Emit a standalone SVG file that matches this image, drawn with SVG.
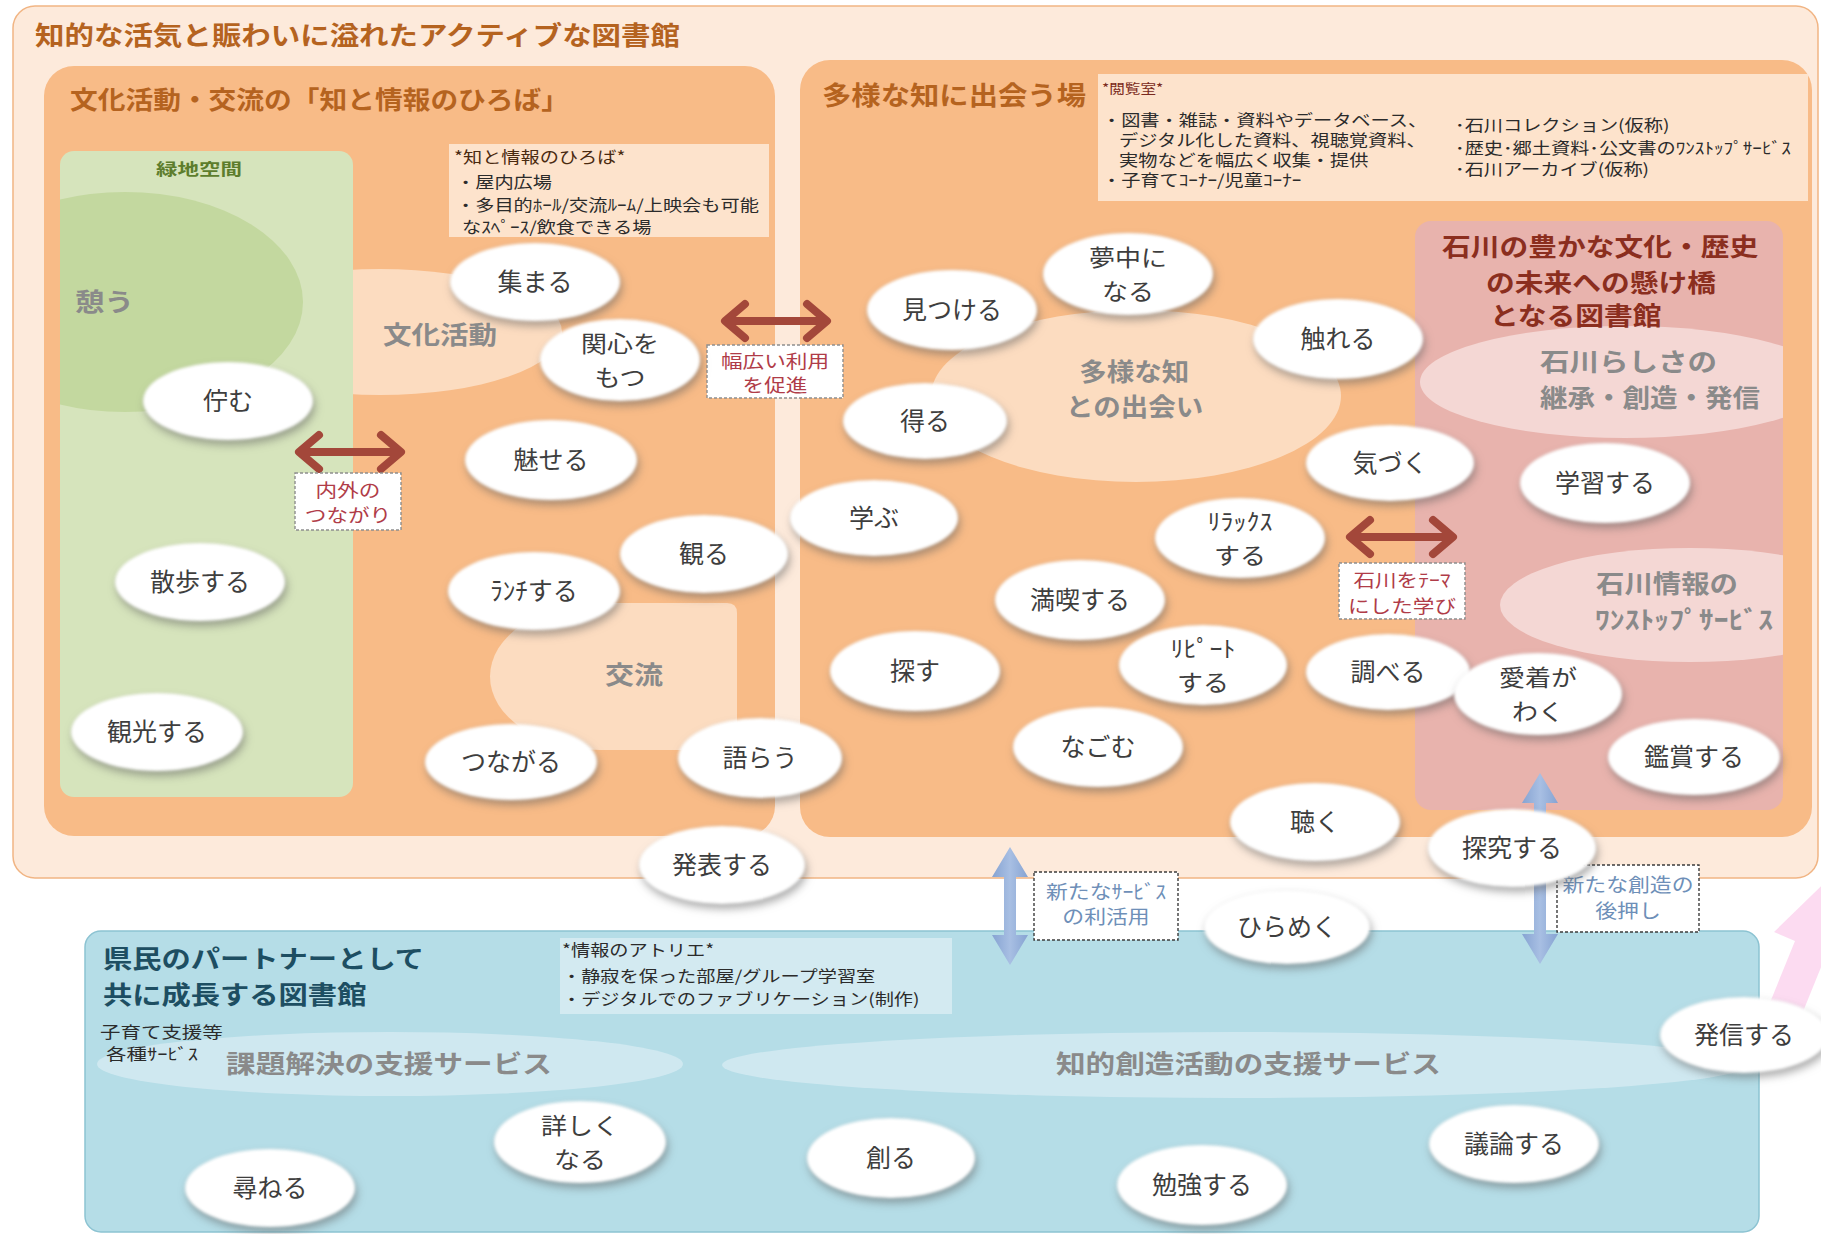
<svg xmlns="http://www.w3.org/2000/svg" width="1821" height="1234" viewBox="0 0 1821 1234">
<defs>
<style>
text{font-family:"Noto Sans CJK JP","Noto Sans",sans-serif;}
.bub{fill:#fff;filter:url(#sh);}
.lb{font-size:25px;fill:#3e3e3e;text-anchor:middle;}
.lb2{font-size:23px;fill:#3e3e3e;text-anchor:middle;}
.big{font-size:25px;font-weight:700;fill:#8a8a8a;}
.head{font-weight:700;fill:#b5631f;}
.info{font-size:16px;fill:#2b2b2b;}
.dbox{fill:#fff;stroke:#8e8e8e;stroke-width:1.4;stroke-dasharray:3 2;}
.dboxb{fill:#fff;stroke:#3c3c3c;stroke-width:1.4;stroke-dasharray:3 2;}
.rtxt{font-size:18px;fill:#b03c48;text-anchor:middle;}
.btxt{font-size:19px;fill:#6e8fb8;text-anchor:middle;}
.rarrow{fill:none;stroke:#a3473a;stroke-width:8;stroke-linecap:round;stroke-linejoin:round;}
.barrow{fill:url(#bgr);}
</style>
<linearGradient id="bgr" x1="0" y1="0" x2="1" y2="0">
<stop offset="0" stop-color="#86a3d2"/><stop offset="0.5" stop-color="#a8bfe3"/><stop offset="1" stop-color="#86a3d2"/>
</linearGradient>
<filter id="sh" x="-25%" y="-30%" width="150%" height="170%" color-interpolation-filters="sRGB">
<feGaussianBlur in="SourceAlpha" stdDeviation="4"/>
<feOffset dx="2" dy="5" result="o"/>
<feFlood flood-color="#5a5a5a" flood-opacity="0.5"/>
<feComposite in2="o" operator="in" result="s"/>
<feGaussianBlur in="SourceGraphic" stdDeviation="1.6" result="g"/>
<feMerge><feMergeNode in="s"/><feMergeNode in="g"/></feMerge>
</filter>
<clipPath id="cpG"><rect x="60" y="151" width="293" height="646" rx="14"/></clipPath>
<clipPath id="cpP"><rect x="1415" y="221" width="368" height="589" rx="16"/></clipPath>
</defs>

<g id="outer">
<rect x="13" y="6" width="1805" height="872" rx="22" fill="#fdeadb" stroke="#f1b584" stroke-width="1.5"/>
<text class="head" x="35" y="45" font-size="26" textLength="645" lengthAdjust="spacingAndGlyphs">知的な活気と賑わいに溢れたアクティブな図書館</text>
</g>

<g id="panel-hiroba">
<rect x="44" y="66" width="731" height="770" rx="30" fill="#f8bb87"/>
<ellipse cx="380" cy="332" rx="182" ry="63" fill="#fcdcc0"/>
<path d="M600 603 H727 Q737 603 737 613 V750 H600 A110 73.5 0 0 1 600 603 Z" fill="#fcdcc0"/>
<rect x="60" y="151" width="293" height="646" rx="14" fill="#d6e4bc"/>
<ellipse cx="125" cy="302" rx="178" ry="110" fill="#c3d89f" clip-path="url(#cpG)"/>
<text class="head" x="70" y="109" font-size="25" textLength="499" lengthAdjust="spacingAndGlyphs">文化活動・交流の「知と情報のひろば」</text>
<text x="156" y="175" font-size="16" font-weight="700" fill="#5d7d2d" textLength="86" lengthAdjust="spacingAndGlyphs">緑地空間</text>
<text class="big" x="75" y="311" textLength="59" lengthAdjust="spacingAndGlyphs">憩う</text>
<text class="big" x="383" y="344" textLength="114" lengthAdjust="spacingAndGlyphs">文化活動</text>
<text class="big" x="605" y="684" textLength="58" lengthAdjust="spacingAndGlyphs">交流</text>
<rect x="449" y="144" width="320" height="93" fill="#fde3cc"/>
<text class="info" transform="matrix(1.2 0 0 1 454 0)" font-size="16"><tspan x="0" y="163" fill="#4a2a10">*知と情報のひろば*</tspan><tspan x="1.7" y="188">・屋内広場</tspan><tspan x="1.7" y="211">・多目的ﾎｰﾙ/交流ﾙｰﾑ/上映会も可能</tspan><tspan x="6.7" y="233">なｽﾍﾟｰｽ/飲食できる場</tspan></text>
</g>

<g id="panel-deai">
<rect x="800" y="60" width="1012" height="777" rx="30" fill="#f8bb87"/>
<rect x="1098" y="74" width="710" height="127" fill="#fde3cc"/>
<text class="head" x="822" y="105" font-size="26" textLength="264" lengthAdjust="spacingAndGlyphs">多様な知に出会う場</text>
<text class="info" transform="matrix(1.2 0 0 1 1102 0)" font-size="15.5"><tspan x="0" y="93" font-size="13" fill="#7a2a20">*閲覧室*</tspan><tspan x="0" y="126">・図書・雑誌・資料やデータベース、</tspan><tspan x="14.2" y="146">デジタル化した資料、視聴覚資料、</tspan><tspan x="14.2" y="166">実物などを幅広く収集・提供</tspan><tspan x="0" y="186">・子育てｺｰﾅｰ/児童ｺｰﾅｰ</tspan><tspan x="294.2" y="131">･石川コレクション(仮称)</tspan><tspan x="294.2" y="154">･歴史･郷土資料･公文書のﾜﾝｽﾄｯﾌﾟｻｰﾋﾞｽ</tspan><tspan x="294.2" y="175">･石川アーカイブ(仮称)</tspan></text>
<ellipse cx="1136" cy="396" rx="205" ry="86" fill="#fcdcc0"/>
<text class="big" transform="matrix(1.1 0 0 1 1066 0)" font-size="26"><tspan x="12" y="381">多様な知</tspan><tspan x="0" y="416">との出会い</tspan></text>
</g>

<g id="panel-ishikawa">
<rect x="1415" y="221" width="368" height="589" rx="16" fill="#e8b3ad"/>
<ellipse cx="1625" cy="382" rx="205" ry="56" fill="#f4d7d4" clip-path="url(#cpP)"/>
<ellipse cx="1690" cy="605" rx="190" ry="57" fill="#f4d7d4" clip-path="url(#cpP)"/>
<text transform="matrix(1.15 0 0 1 1442 0)" font-size="25" font-weight="700" fill="#8b2e1e"><tspan x="0" y="256">石川の豊かな文化・歴史</tspan><tspan x="38.3" y="292">の未来への懸け橋</tspan><tspan x="41.7" y="325">となる図書館</tspan></text>
<text class="big" x="1540" y="371" font-size="24" textLength="177" lengthAdjust="spacingAndGlyphs">石川らしさの</text>
<text class="big" x="1540" y="407" font-size="24" textLength="220" lengthAdjust="spacingAndGlyphs">継承・創造・発信</text>
<text class="big" x="1596" y="593" font-size="24" textLength="142" lengthAdjust="spacingAndGlyphs">石川情報の</text>
<text class="big" x="1595" y="629" font-size="24" textLength="178" lengthAdjust="spacingAndGlyphs">ﾜﾝｽﾄｯﾌﾟｻｰﾋﾞｽ</text>
</g>

<g id="panel-partner">
<rect x="85" y="931" width="1674" height="301" rx="16" fill="#b5dde7" stroke="#8cc3d2" stroke-width="1.5"/>
<ellipse cx="390" cy="1064" rx="293" ry="32" fill="#cfe8f0"/>
<ellipse cx="1235" cy="1065" rx="513" ry="33" fill="#cfe8f0"/>
<rect x="560" y="938" width="392" height="76" fill="#d3eaf1"/>
<text transform="matrix(1.195 0 0 1 103 0)" font-size="24.5" font-weight="700" fill="#1d4e62"><tspan x="0" y="968">県民のパートナーとして</tspan><tspan x="0" y="1004">共に成長する図書館</tspan></text>
<text class="info" transform="matrix(1.28 0 0 1 100 0)" font-size="15" fill="#222"><tspan x="0" y="1038">子育て支援等</tspan><tspan x="4.7" y="1060">各種ｻｰﾋﾞｽ</tspan></text>
<text class="big" x="226" y="1073" textLength="326" lengthAdjust="spacingAndGlyphs">課題解決の支援サービス</text>
<text class="big" x="1056" y="1073" textLength="385" lengthAdjust="spacingAndGlyphs">知的創造活動の支援サービス</text>
<text class="info" transform="matrix(1.2 0 0 1 562 0)" font-size="16" fill="#222"><tspan x="0" y="956">*情報のアトリエ*</tspan><tspan x="0" y="982">・静寂を保った部屋/グループ学習室</tspan><tspan x="0" y="1005">・デジタルでのファブリケーション(制作)</tspan></text>
</g>

<g id="pink-arrow">
<polygon points="1769,1005 1795,941 1774,932 1851,857 1851,960 1826,955 1800,1019" fill="#fbd5ee" opacity="0.85"/>
</g>

<g id="connectors">
<path class="rarrow" d="M300 452 H400 M319 435 L299 452 L319 469 M381 435 L401 452 L381 469"/>
<rect class="dbox" x="295" y="473" width="106" height="57"/>
<text class="rtxt" transform="matrix(1.2 0 0 1 348 0)"><tspan x="0" y="497">内外の</tspan><tspan x="0" y="522">つながり</tspan></text>

<path class="rarrow" d="M726 321 H826 M745 304 L725 321 L745 338 M807 304 L827 321 L807 338"/>
<rect class="dbox" x="707" y="345" width="136" height="53"/>
<text class="rtxt" transform="matrix(1.2 0 0 1 775 0)"><tspan x="0" y="368">幅広い利用</tspan><tspan x="0" y="392">を促進</tspan></text>

<path class="rarrow" d="M1351 537 H1452 M1370 520 L1350 537 L1370 554 M1433 520 L1453 537 L1433 554"/>
<rect class="dbox" x="1339" y="563" width="126" height="56"/>
<text class="rtxt" transform="matrix(1.2 0 0 1 1402 0)"><tspan x="0" y="587">石川をﾃｰﾏ</tspan><tspan x="0" y="613">にした学び</tspan></text>

<polygon class="barrow" points="1010,847 1028,877 1016,877 1016,935 1028,935 1010,965 992,935 1004,935 1004,877 992,877"/>
<rect class="dboxb" x="1034" y="872" width="144" height="68"/>
<text class="btxt" transform="matrix(1.15 0 0 1 1106 0)"><tspan x="0" y="899">新たなｻｰﾋﾞｽ</tspan><tspan x="0" y="924">の利活用</tspan></text>

<polygon class="barrow" points="1540,773 1558,803 1546,803 1546,934 1558,934 1540,964 1522,934 1534,934 1534,803 1522,803"/>
<rect class="dboxb" x="1557" y="865" width="142" height="67"/>
<text class="btxt" transform="matrix(1.15 0 0 1 1628 0)"><tspan x="0" y="892">新たな創造の</tspan><tspan x="0" y="918">後押し</tspan></text>
</g>

<g id="nodes">
<g id="n-atsumaru"><ellipse class="bub" cx="535" cy="282" rx="85" ry="39"/><text class="lb" x="535" y="291">集まる</text></g>
<g id="n-kanshin"><ellipse class="bub" cx="620" cy="360" rx="80" ry="41"/><text class="lb2" transform="matrix(1.13 0 0 1 620 0)"><tspan x="0" y="352">関心を</tspan><tspan x="0" y="386">もつ</tspan></text></g>
<g id="n-tatazumu"><ellipse class="bub" cx="228" cy="401" rx="85" ry="39"/><text class="lb" x="228" y="410">佇む</text></g>
<g id="n-miseru"><ellipse class="bub" cx="551" cy="460" rx="86" ry="40"/><text class="lb" x="551" y="469">魅せる</text></g>
<g id="n-miru"><ellipse class="bub" cx="704" cy="554" rx="84" ry="39"/><text class="lb" x="704" y="563">観る</text></g>
<g id="n-lunch"><ellipse class="bub" cx="534" cy="591" rx="86" ry="39"/><text class="lb" x="534" y="600">ﾗﾝﾁする</text></g>
<g id="n-sanpo"><ellipse class="bub" cx="200" cy="582" rx="85" ry="39"/><text class="lb" x="200" y="591">散歩する</text></g>
<g id="n-kanko"><ellipse class="bub" cx="157" cy="732" rx="86" ry="39"/><text class="lb" x="157" y="741">観光する</text></g>
<g id="n-tsunagaru"><ellipse class="bub" cx="511" cy="762" rx="86" ry="38"/><text class="lb" x="511" y="771">つながる</text></g>
<g id="n-katarau"><ellipse class="bub" cx="760" cy="758" rx="82" ry="40"/><text class="lb" x="760" y="767">語らう</text></g>
<g id="n-happyo"><ellipse class="bub" cx="722" cy="865" rx="83" ry="39"/><text class="lb" x="722" y="874">発表する</text></g>
<g id="n-muchu"><ellipse class="bub" cx="1128" cy="274" rx="85" ry="41"/><text class="lb2" transform="matrix(1.13 0 0 1 1128 0)"><tspan x="0" y="266">夢中に</tspan><tspan x="0" y="300">なる</tspan></text></g>
<g id="n-mitsukeru"><ellipse class="bub" cx="952" cy="310" rx="85" ry="40"/><text class="lb" x="952" y="319">見つける</text></g>
<g id="n-fureru"><ellipse class="bub" cx="1338" cy="339" rx="85" ry="40"/><text class="lb" x="1338" y="348">触れる</text></g>
<g id="n-eru"><ellipse class="bub" cx="925" cy="421" rx="82" ry="38"/><text class="lb" x="925" y="430">得る</text></g>
<g id="n-kizuku"><ellipse class="bub" cx="1390" cy="463" rx="84" ry="38"/><text class="lb" x="1390" y="472">気づく</text></g>
<g id="n-manabu"><ellipse class="bub" cx="874" cy="518" rx="84" ry="38"/><text class="lb" x="874" y="527">学ぶ</text></g>
<g id="n-relax"><ellipse class="bub" cx="1240" cy="538" rx="85" ry="40"/><text class="lb2" transform="matrix(1.13 0 0 1 1240 0)"><tspan x="0" y="530">ﾘﾗｯｸｽ</tspan><tspan x="0" y="564">する</tspan></text></g>
<g id="n-mankitsu"><ellipse class="bub" cx="1080" cy="600" rx="85" ry="40"/><text class="lb" x="1080" y="609">満喫する</text></g>
<g id="n-sagasu"><ellipse class="bub" cx="915" cy="671" rx="85" ry="40"/><text class="lb" x="915" y="680">探す</text></g>
<g id="n-repeat"><ellipse class="bub" cx="1203" cy="665" rx="84" ry="40"/><text class="lb2" transform="matrix(1.13 0 0 1 1203 0)"><tspan x="0" y="657">ﾘﾋﾟｰﾄ</tspan><tspan x="0" y="691">する</tspan></text></g>
<g id="n-shiraberu"><ellipse class="bub" cx="1388" cy="672" rx="82" ry="38"/><text class="lb" x="1388" y="681">調べる</text></g>
<g id="n-aichaku"><ellipse class="bub" cx="1538" cy="694" rx="84" ry="41"/><text class="lb2" transform="matrix(1.13 0 0 1 1538 0)"><tspan x="0" y="686">愛着が</tspan><tspan x="0" y="720">わく</tspan></text></g>
<g id="n-nagomu"><ellipse class="bub" cx="1098" cy="747" rx="85" ry="40"/><text class="lb" x="1098" y="756">なごむ</text></g>
<g id="n-kansho"><ellipse class="bub" cx="1694" cy="757" rx="86" ry="38"/><text class="lb" x="1694" y="766">鑑賞する</text></g>
<g id="n-gakushu"><ellipse class="bub" cx="1605" cy="483" rx="85" ry="40"/><text class="lb" x="1605" y="492">学習する</text></g>
<g id="n-kiku"><ellipse class="bub" cx="1315" cy="822" rx="85" ry="39"/><text class="lb" x="1315" y="831">聴く</text></g>
<g id="n-tankyu"><ellipse class="bub" cx="1512" cy="848" rx="84" ry="39"/><text class="lb" x="1512" y="857">探究する</text></g>
<g id="n-hirameku"><ellipse class="bub" cx="1287" cy="927" rx="83" ry="37"/><text class="lb" x="1287" y="936">ひらめく</text></g>
<g id="n-tazuneru"><ellipse class="bub" cx="270" cy="1188" rx="85" ry="39"/><text class="lb" x="270" y="1197">尋ねる</text></g>
<g id="n-kuwashiku"><ellipse class="bub" cx="580" cy="1142" rx="86" ry="41"/><text class="lb2" transform="matrix(1.13 0 0 1 580 0)"><tspan x="0" y="1134">詳しく</tspan><tspan x="0" y="1168">なる</tspan></text></g>
<g id="n-tsukuru"><ellipse class="bub" cx="891" cy="1158" rx="84" ry="40"/><text class="lb" x="891" y="1167">創る</text></g>
<g id="n-benkyo"><ellipse class="bub" cx="1202" cy="1185" rx="85" ry="40"/><text class="lb" x="1202" y="1194">勉強する</text></g>
<g id="n-giron"><ellipse class="bub" cx="1514" cy="1144" rx="85" ry="39"/><text class="lb" x="1514" y="1153">議論する</text></g>
<g id="n-hasshin"><ellipse class="bub" cx="1744" cy="1035" rx="84" ry="38"/><text class="lb" x="1744" y="1044">発信する</text></g>
</g>
</svg>
